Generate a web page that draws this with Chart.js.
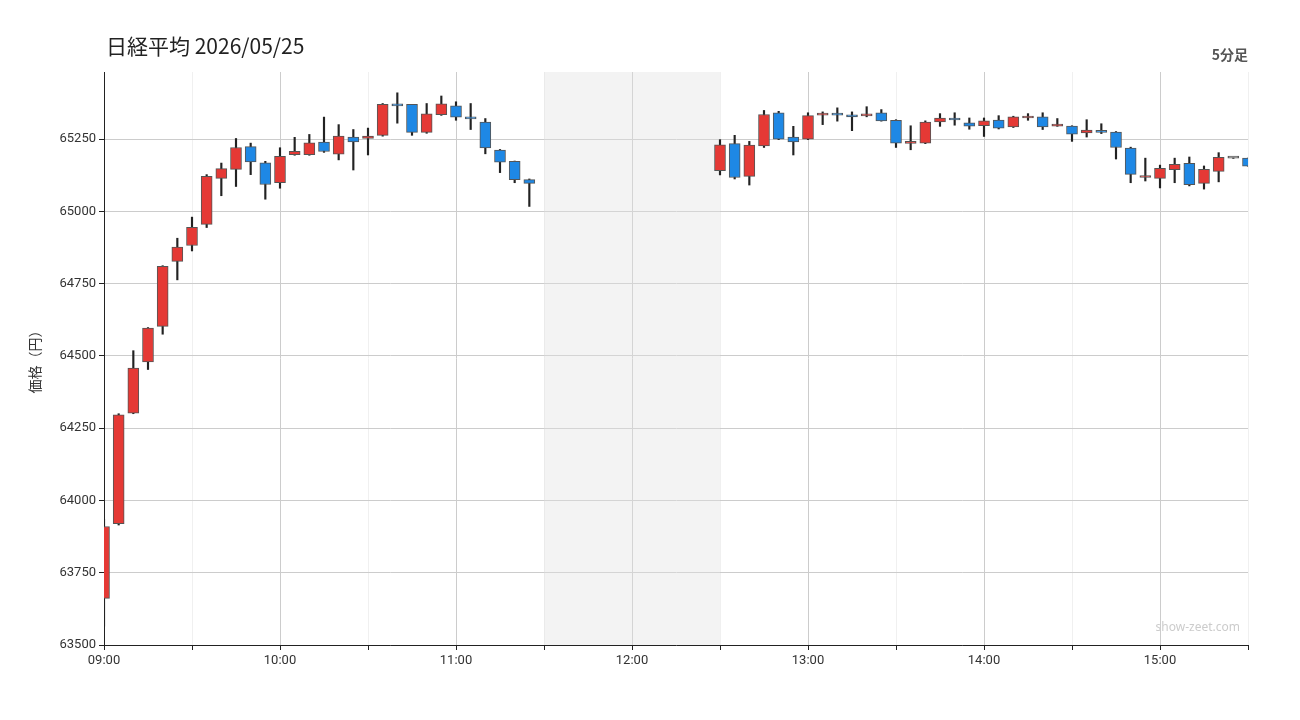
<!DOCTYPE html>
<html>
<head>
<meta charset="utf-8">
<script src="https://cdn.jsdelivr.net/npm/chart.js@4"></script>
<style>
  body { margin: 0; background: #fff; font-family: "Noto Sans CJK JP", "Noto Sans", sans-serif; }
  #wrap { position: relative; width: 1300px; height: 720px; }
  #title { position: absolute; left: 106px; top: 30px; font-size: 21px; color: #222; }
  #span { position: absolute; right: 52px; top: 44px; font-size: 14px; font-weight: bold; color: #555; }
  #mark { position: absolute; right: 60px; top: 618px; font-size: 12px; color: #ccc; font-family: "Noto Sans", sans-serif; }
</style>
</head>
<body>
<div id="wrap">
  <canvas id="chart" width="1300" height="720"></canvas>
  <div id="title">日経平均 2026/05/25</div>
  <div id="span">5分足</div>
  <div id="mark">show-zeet.com</div>
</div>
<script>
// 5 minute candles, morning and afternoon sessions
const times = [
  "09:00","09:05","09:10","09:15","09:20","09:25","09:30","09:35","09:40","09:45",
  "09:50","09:55","10:00","10:05","10:10","10:15","10:20","10:25","10:30","10:35",
  "10:40","10:45","10:50","10:55","11:00","11:05","11:10","11:15","11:20","11:25",
  "12:30","12:35","12:40","12:45","12:50","12:55","13:00","13:05","13:10","13:15",
  "13:20","13:25","13:30","13:35","13:40","13:45","13:50","13:55","14:00","14:05",
  "14:10","14:15","14:20","14:25","14:30","14:35","14:40","14:45","14:50","14:55",
  "15:00","15:05","15:10","15:15","15:20","15:25","15:30"
];
const opens = [
  63661,63920,64302,64479,64602,64827,64882,64955,65114,65145,
  65224,65168,65099,65196,65196,65240,65198,65257,65252,65263,
  65368,65370,65273,65334,65365,65327,65309,65212,65173,65110,
  65141,65234,65121,65226,65341,65257,65250,65333,65337,65334,
  65330,65341,65315,65235,65236,65309,65323,65306,65296,65316,
  65292,65323,65327,65295,65295,65271,65278,65274,65219,65117,
  65114,65144,65166,65097,65138,65184,65184
];
const highs = [
  63935,64300,64518,64598,64812,64907,64980,65127,65167,65252,
  65236,65173,65220,65256,65266,65326,65300,65283,65288,65373,
  65410,65370,65373,65399,65379,65373,65321,65214,65174,65112,
  65248,65263,65242,65349,65346,65294,65341,65344,65358,65344,
  65362,65352,65317,65296,65313,65338,65341,65323,65323,65331,
  65329,65338,65341,65321,65296,65317,65303,65276,65222,65184,
  65160,65184,65188,65157,65203,65185,65184
];
const lows = [
  63565,63915,64300,64453,64575,64763,64863,64944,65054,65086,
  65127,65042,65080,65194,65194,65204,65178,65143,65195,65260,
  65305,65263,65270,65332,65315,65283,65199,65134,65099,65017,
  65126,65112,65091,65221,65248,65195,65248,65300,65312,65279,
  65327,65312,65221,65213,65234,65294,65298,65284,65259,65285,
  65290,65315,65283,65294,65242,65257,65269,65181,65099,65105,
  65081,65099,65088,65077,65102,65183,65156
];
const closes = [
  63910,64296,64458,64596,64810,64876,64945,65121,65148,65221,
  65171,65093,65190,65208,65237,65207,65260,65240,65260,65370,
  65365,65273,65337,65372,65326,65320,65219,65170,65110,65097,
  65230,65117,65229,65335,65250,65240,65331,65337,65333,65327,
  65337,65313,65236,65237,65309,65323,65316,65295,65313,65288,
  65327,65325,65292,65302,65267,65281,65273,65221,65128,65124,
  65149,65163,65092,65145,65187,65184,65156
];
const yTicks = [63500, 63750, 64000, 64250, 64500, 64750, 65000, 65250];

const UP = '#e53935', DOWN = '#1e88e5', FLAT = '#888888';

function toMin(t) {
  const p = t.split(':');
  return (parseInt(p[0]) - 9) * 60 + parseInt(p[1]);
}
function fmt(m) {
  const h = 9 + Math.floor(m / 60), mm = m % 60;
  return String(h).padStart(2, '0') + ':' + String(mm).padStart(2, '0');
}

const xs = times.map(toMin);
const bodyData = xs.map((x, i) => ({ x: x, y: [opens[i], closes[i]] }));
const wickData = xs.map((x, i) => ({ x: x, y: [lows[i], highs[i]] }));
const bodyColors = opens.map((o, i) => closes[i] > o ? UP : (closes[i] < o ? DOWN : FLAT));

// grey band for the lunch break
const lunchBand = {
  id: 'lunchBand',
  beforeDatasetsDraw(chart) {
    const { ctx, chartArea, scales } = chart;
    const x1 = scales.x.getPixelForValue(150), x2 = scales.x.getPixelForValue(210);
    ctx.save();
    ctx.fillStyle = 'rgba(225,225,225,0.4)';
    ctx.fillRect(x1, chartArea.top, x2 - x1, chartArea.bottom - chartArea.top);
    ctx.restore();
  }
};

new Chart(document.getElementById('chart'), {
  type: 'bar',
  data: {
    datasets: [
      {
        data: wickData,
        backgroundColor: '#222',
        barThickness: 1.5,
        grouped: false,
        order: 2
      },
      {
        data: bodyData,
        backgroundColor: bodyColors,
        borderColor: '#555',
        borderWidth: 1,
        borderSkipped: false,
        barThickness: 11,
        minBarLength: 2,
        grouped: false,
        order: 1
      }
    ]
  },
  options: {
    responsive: false,
    animation: false,
    layout: { padding: { left: 22, right: 52, top: 72, bottom: 45 } },
    plugins: { legend: { display: false }, tooltip: { enabled: false } },
    scales: {
      x: {
        type: 'linear',
        min: 0,
        max: 390,
        offset: false,
        afterFit: s => { s.height = 30; },
        afterBuildTicks: s => {
          const t = [];
          for (let m = 0; m <= 390; m += 30) t.push({ value: m });
          s.ticks = t;
        },
        ticks: {
          autoSkip: false,
          maxRotation: 0,
          color: '#333',
          font: { size: 13, family: 'Roboto' },
          callback: v => v % 60 === 0 ? fmt(v) : ''
        },
        grid: {
          offset: false,
          color: c => c.tick && c.tick.value % 60 === 0 ? '#cccccc' : '#f0f0f0',
          tickColor: '#222',
          tickLength: 5
        },
        border: { color: '#222', width: 1 }
      },
      y: {
        min: 63500,
        max: 65482,
        afterFit: s => { s.width = 82; },
        afterBuildTicks: s => { s.ticks = yTicks.map(v => ({ value: v })); },
        ticks: {
          color: '#333',
          font: { size: 13, family: 'Roboto' },
          callback: v => String(v)
        },
        grid: { offset: false, color: '#cccccc', tickColor: '#222', tickLength: 5 },
        border: { color: '#222', width: 1 },
        title: {
          display: true,
          text: '価格（円）',
          color: '#333',
          font: { size: 14, family: 'Noto Sans CJK JP' }
        }
      }
    }
  },
  plugins: [lunchBand]
});
</script>
</body>
</html>
